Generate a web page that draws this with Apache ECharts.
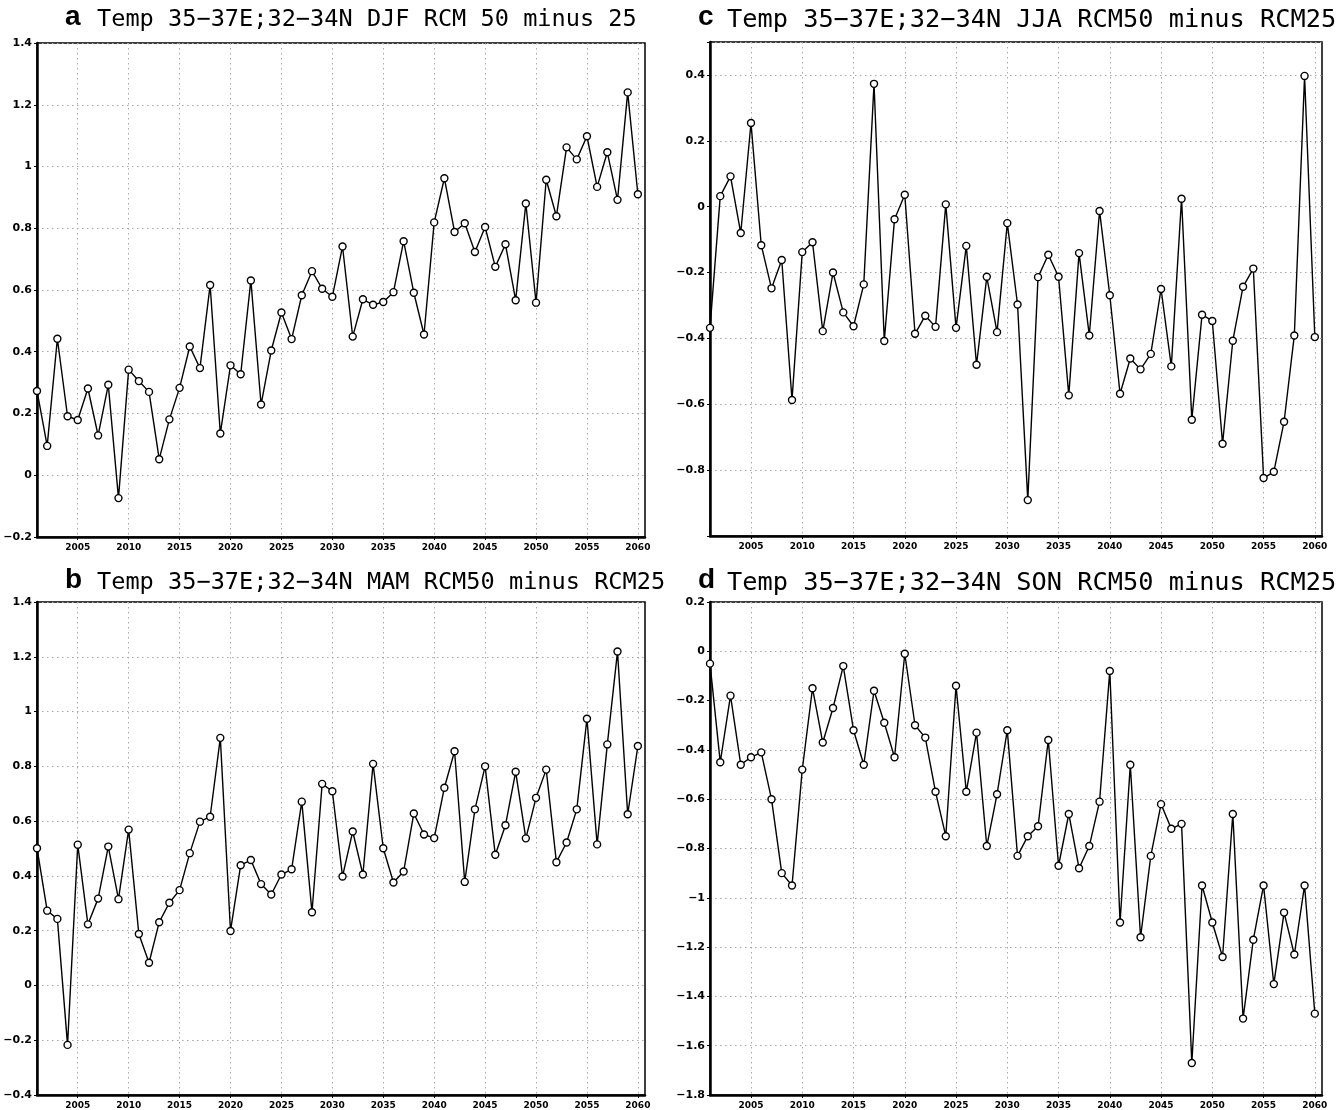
<!DOCTYPE html>
<html><head><meta charset="utf-8">
<script src="https://cdn.jsdelivr.net/npm/echarts@6/dist/echarts.min.js"></script>
<style>html,body{margin:0;padding:0;background:#fff}#c{width:1338px;height:1110px}</style>
</head><body><div id="c"></div>
<script>
const years = [2001,2002,2003,2004,2005,2006,2007,2008,2009,2010,2011,2012,2013,2014,2015,2016,2017,2018,2019,2020,2021,2022,2023,2024,2025,2026,2027,2028,2029,2030,2031,2032,2033,2034,2035,2036,2037,2038,2039,2040,2041,2042,2043,2044,2045,2046,2047,2048,2049,2050,2051,2052,2053,2054,2055,2056,2057,2058,2059,2060];
const djf = [0.273,0.095,0.442,0.191,0.179,0.281,0.129,0.293,-0.074,0.342,0.305,0.270,0.052,0.181,0.283,0.417,0.347,0.616,0.135,0.356,0.327,0.631,0.229,0.404,0.527,0.441,0.583,0.661,0.604,0.578,0.741,0.449,0.570,0.552,0.561,0.593,0.758,0.591,0.456,0.819,0.962,0.788,0.816,0.723,0.804,0.675,0.748,0.567,0.880,0.559,0.957,0.839,1.062,1.023,1.098,0.934,1.046,0.892,1.240,0.910];
const mam = [0.501,0.273,0.243,-0.217,0.514,0.223,0.317,0.507,0.315,0.569,0.188,0.083,0.231,0.302,0.348,0.483,0.598,0.616,0.904,0.199,0.439,0.458,0.370,0.332,0.405,0.424,0.671,0.267,0.736,0.709,0.398,0.562,0.405,0.809,0.501,0.376,0.416,0.628,0.551,0.538,0.722,0.855,0.378,0.643,0.800,0.477,0.585,0.780,0.537,0.685,0.788,0.450,0.522,0.643,0.974,0.515,0.880,1.219,0.625,0.874];
const jja = [-0.368,0.032,0.092,-0.080,0.254,-0.117,-0.248,-0.162,-0.587,-0.138,-0.108,-0.378,-0.200,-0.321,-0.363,-0.236,0.373,-0.408,-0.038,0.036,-0.386,-0.331,-0.365,0.007,-0.368,-0.119,-0.480,-0.213,-0.381,-0.050,-0.297,-0.891,-0.214,-0.146,-0.213,-0.573,-0.141,-0.391,-0.013,-0.269,-0.568,-0.461,-0.494,-0.447,-0.250,-0.485,0.024,-0.647,-0.328,-0.347,-0.720,-0.407,-0.243,-0.188,-0.824,-0.805,-0.653,-0.391,0.397,-0.396];
const son = [-0.05,-0.45,-0.18,-0.46,-0.43,-0.41,-0.60,-0.90,-0.95,-0.48,-0.15,-0.37,-0.23,-0.06,-0.32,-0.46,-0.16,-0.29,-0.43,-0.01,-0.30,-0.35,-0.57,-0.75,-0.14,-0.57,-0.33,-0.79,-0.58,-0.32,-0.83,-0.75,-0.71,-0.36,-0.87,-0.66,-0.88,-0.79,-0.61,-0.08,-1.10,-0.46,-1.16,-0.83,-0.62,-0.72,-0.70,-1.67,-0.95,-1.10,-1.24,-0.66,-1.49,-1.17,-0.95,-1.35,-1.06,-1.23,-0.95,-1.47];
const xTicks = [2005,2010,2015,2020,2025,2030,2035,2040,2045,2050,2055,2060];
const panelLetters = ['a','c','b','d'];
const panelTitles = [
  'Temp 35\u221237E;32\u221234N DJF RCM 50 minus 25',
  'Temp 35\u221237E;32\u221234N JJA RCM50 minus RCM25',
  'Temp 35\u221237E;32\u221234N MAM RCM50 minus RCM25',
  'Temp 35\u221237E;32\u221234N SON RCM50 minus RCM25'
];
const yRanges = [[-0.2,1.4],[-1.0,0.5],[-0.4,1.4],[-1.8,0.2]];
const yHidden = [[],[-1,0.5],[],[]];
const seriesData = [djf, jja, mam, son];

const grids = [
  {left:37, top:43, width:608, height:494},
  {left:710, top:42, width:612, height:494},
  {left:37, top:602, width:608, height:495},
  {left:710, top:602, width:612, height:495}
];
const titlePos = [[65,97,3],[698,727,3],[65,97,566],[698,727,566]];

const fmtNum = v => String(+v.toFixed(2)).replace('-', '\u2212');

const option = {
  backgroundColor:'#fff',
  animation:false,
  title: [],
  grid: grids.map(g => Object.assign({show:true, borderColor:'#000', borderWidth:1.5, backgroundColor:'#fff'}, g)),
  xAxis: grids.map((g,i) => ({
    type:'value', gridIndex:i, min:2001, max:2060.7,
    axisLine:{show:true, onZero:false, lineStyle:{color:'#000', width:2.5}},
    axisTick:{show:true, customValues:xTicks, length:3, inside:false, lineStyle:{color:'#000', width:1}},
    axisLabel:{customValues:xTicks, margin:6, fontSize:9, fontWeight:'bold', fontFamily:'DejaVu Sans', color:'#000',
      formatter: v => String(v)},
    splitLine:{show:true, lineStyle:{type:[1.5,3.5], color:'#a8a8a8', width:1}}
  })),
  yAxis: grids.map((g,i) => ({
    type:'value', gridIndex:i, min:yRanges[i][0], max:yRanges[i][1], interval:0.2,
    axisLine:{show:true, onZero:false, lineStyle:{color:'#000', width:2.5}},
    axisTick:{show:true, length:3, lineStyle:{color:'#000', width:1}},
    axisLabel:{margin:5, fontSize:11, fontWeight:'bold', fontFamily:'DejaVu Sans', color:'#000',
      showMinLabel:true, showMaxLabel:true,
      formatter: v => yHidden[i].some(h => Math.abs(h - v) < 1e-6) ? '' : fmtNum(v)},
    splitLine:{show:true, lineStyle:{type:[1.5,3.5], color:'#a8a8a8', width:1}}
  })),
  series: seriesData.map((d,i) => ({
    type:'line', xAxisIndex:i, yAxisIndex:i,
    data: years.map((y,k) => [y, d[k]]),
    symbol:'circle', symbolSize:7, showAllSymbol:true,
    lineStyle:{color:'#000', width:1.4},
    itemStyle:{color:'#fff', borderColor:'#000', borderWidth:1.4},
    z:5
  }))
};
panelLetters.forEach((L,i) => {
  option.title.push({text:L, left:titlePos[i][0], top:titlePos[i][2], padding:0,
    textStyle:{fontFamily:'Liberation Sans', fontWeight:'bold', fontSize:28, color:'#000'}});
  option.title.push({text:panelTitles[i], left:titlePos[i][1], top:titlePos[i][2]+5, padding:0,
    textStyle:{fontFamily:'DejaVu Sans Mono', fontWeight:'normal', fontSize:(i%2===0?23.6:25.3), color:'#000'}});
});
const chart = echarts.init(document.getElementById('c'), null, {renderer:'canvas'});
chart.setOption(option);
</script></body></html>
